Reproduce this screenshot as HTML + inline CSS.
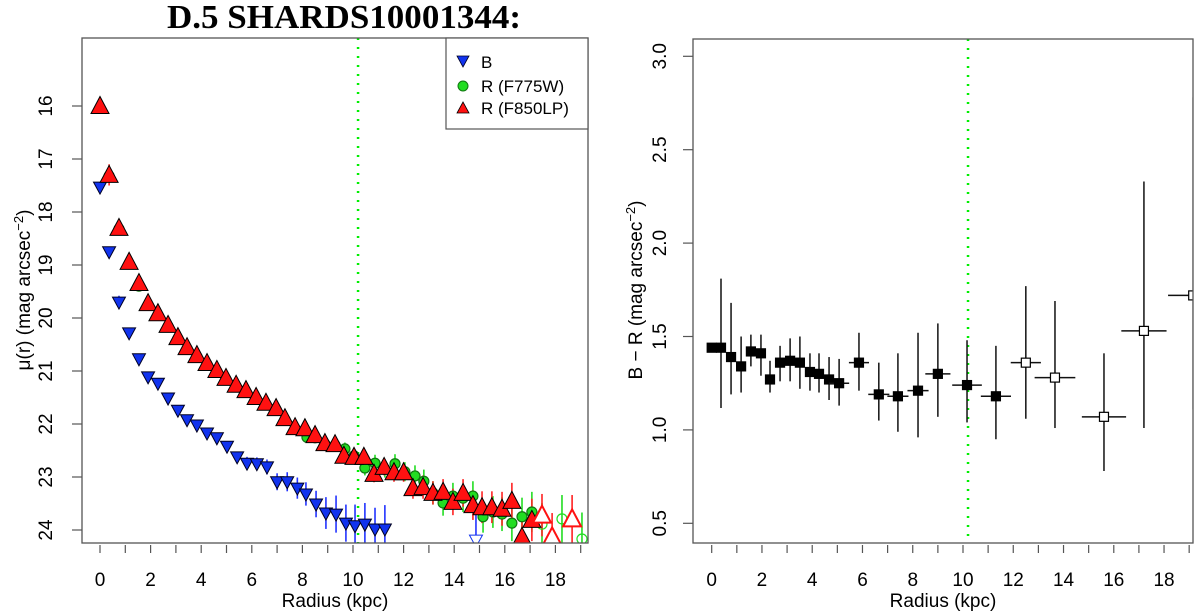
<!DOCTYPE html>
<html><head><meta charset="utf-8"><style>
html,body{margin:0;padding:0;background:#fff;}
svg{display:block;font-family:"Liberation Sans",sans-serif;}
</style></head><body>
<svg id="chart" width="1200" height="614" viewBox="0 0 1200 614" xmlns="http://www.w3.org/2000/svg">
<text x="344" y="28" font-family="Liberation Serif" font-weight="bold" font-size="34" text-anchor="middle" textLength="354" lengthAdjust="spacingAndGlyphs">D.5 SHARDS10001344:</text>
<g id="left"></g>
<g id="right"></g>
</svg>
<script>
// ---- Left panel data ----
const redR = [0,0.36,0.75,1.15,1.54,1.9,2.29,2.69,3.08,3.44,3.83,4.23,4.62,4.98,5.38,5.77,6.17,6.56,6.96,7.31,7.71,8.1,8.5,8.89,9.29,9.64,10.04,10.43,10.83,11.23,11.62,12.0,12.37,12.77,13.16,13.56,13.95,14.35,14.74,15.1,15.49,15.89,16.28,16.68,17.07,17.47,17.87,18.66];
const redMu = [16.0,17.3,18.3,18.94,19.34,19.72,19.91,20.13,20.36,20.55,20.7,20.85,20.98,21.13,21.26,21.36,21.49,21.6,21.7,21.89,22.06,22.08,22.21,22.36,22.38,22.6,22.62,22.62,22.94,22.81,22.91,22.91,23.21,23.19,23.3,23.28,23.47,23.3,23.53,23.57,23.57,23.6,23.45,24.13,23.81,23.72,24.13,23.79];
const redErr = [0.02,0.2,0.08,0.05,0.05,0.04,0.04,0.04,0.04,0.04,0.04,0.04,0.05,0.05,0.05,0.06,0.06,0.06,0.07,0.08,0.08,0.1,0.1,0.1,0.12,0.12,0.14,0.14,0.16,0.16,0.18,0.18,0.2,0.22,0.22,0.24,0.25,0.26,0.28,0.3,0.3,0.32,0.34,0.4,0.4,0.4,0.45,0.45];
const redOpen = [0,0,0,0,0,0,0,0,0,0,0,0,0,0,0,0,0,0,0,0,0,0,0,0,0,0,0,0,0,0,0,0,0,0,0,0,0,0,0,0,0,0,0,0,0,1,1,1];
const greenR = [0.36,0.75,1.15,1.54,1.9,2.29,2.69,3.08,3.44,3.83,4.23,4.62,4.98,5.38,5.77,6.17,6.56,6.96,7.31,7.71,8.18,8.5,8.89,9.29,9.68,10.04,10.47,10.87,11.26,11.66,12.05,12.45,12.8,13.16,13.56,13.95,14.35,14.74,15.14,15.53,15.89,16.28,16.68,17.07,17.47,18.26,19.05];
const greenMu = [17.32,18.32,18.98,19.4,19.76,19.95,20.16,20.39,20.58,20.73,20.88,21.01,21.16,21.29,21.39,21.52,21.63,21.73,21.92,22.09,22.25,22.26,22.38,22.4,22.47,22.6,22.83,22.74,22.85,22.75,22.9,22.98,23.08,23.3,23.49,23.36,23.4,23.36,23.75,23.66,23.7,23.87,23.75,23.66,23.89,23.79,24.17];
const greenErr = [0.05,0.05,0.04,0.04,0.04,0.04,0.04,0.04,0.04,0.04,0.05,0.05,0.05,0.05,0.06,0.06,0.06,0.07,0.08,0.08,0.1,0.1,0.1,0.12,0.12,0.14,0.14,0.16,0.16,0.18,0.18,0.2,0.22,0.22,0.24,0.25,0.26,0.28,0.3,0.3,0.32,0.34,0.36,0.38,0.4,0.45,0.5];
const greenOpen = [0,0,0,0,0,0,0,0,0,0,0,0,0,0,0,0,0,0,0,0,0,0,0,0,0,0,0,0,0,0,0,0,0,0,0,0,0,0,0,0,0,0,0,0,1,1,1];
const blueR = [0,0.36,0.75,1.15,1.54,1.9,2.29,2.69,3.08,3.44,3.83,4.23,4.62,5.02,5.42,5.81,6.2,6.6,7.0,7.4,7.8,8.14,8.54,8.93,9.33,9.72,10.08,10.47,10.87,11.26,14.86];
const blueMu = [17.53,18.75,19.7,20.28,20.77,21.11,21.23,21.51,21.74,21.92,22.02,22.17,22.26,22.42,22.62,22.74,22.75,22.81,23.09,23.09,23.21,23.32,23.51,23.68,23.7,23.87,23.92,23.89,23.98,23.98,24.19];
const blueErr = [0.02,0.08,0.12,0.1,0.06,0.06,0.06,0.06,0.06,0.07,0.07,0.08,0.08,0.09,0.1,0.12,0.12,0.14,0.16,0.18,0.2,0.22,0.25,0.3,0.35,0.35,0.4,0.4,0.4,0.45,0.6];
const blueOpen = [0,0,0,0,0,0,0,0,0,0,0,0,0,0,0,0,0,0,0,0,0,0,0,0,0,0,0,0,0,0,1];
const leftXTicks = [0,2,4,6,8,10,12,14,16,18];
const leftYTicks = [16,17,18,19,20,21,22,23,24];
const legendLabels = ["B","R (F775W)","R (F850LP)"];
// ---- Right panel data ----
const colR = [0,0.37,0.77,1.17,1.56,1.96,2.32,2.72,3.12,3.51,3.91,4.27,4.67,5.07,5.86,6.65,7.41,8.21,9.0,10.16,11.31,12.5,13.66,15.61,17.2,19.16];
const colVal = [1.44,1.44,1.39,1.34,1.42,1.41,1.27,1.36,1.37,1.36,1.31,1.30,1.27,1.25,1.36,1.19,1.18,1.21,1.30,1.24,1.18,1.36,1.28,1.07,1.53,1.72];
const colHi = [1.44,1.81,1.68,1.50,1.51,1.51,1.37,1.45,1.49,1.50,1.41,1.41,1.39,1.38,1.52,1.36,1.41,1.52,1.57,1.48,1.45,1.77,1.69,1.41,2.33,2.78];
const colLo = [1.44,1.117,1.19,1.20,1.34,1.29,1.20,1.26,1.26,1.22,1.21,1.20,1.16,1.13,1.21,1.05,0.99,0.96,1.07,1.04,0.95,1.06,1.01,0.78,1.01,1.11];
const colXErr = [0,0,0,0,0,0,0,0,0,0,0,0,0,0.4,0.4,0.42,0.42,0.42,0.5,0.59,0.6,0.6,0.81,0.88,0.9,1.0];
const colOpen = [0,0,0,0,0,0,0,0,0,0,0,0,0,0,0,0,0,0,0,0,0,1,1,1,1,1];
const rightXTicks = [0,2,4,6,8,10,12,14,16,18];
const rightYTicks = [0.5,1.0,1.5,2.0,2.5,3.0];
const dottedR = 10.2;

const NS = "http://www.w3.org/2000/svg";
function mk(parent, tag, attrs){const e=document.createElementNS(NS,tag);for(const k in attrs)e.setAttribute(k,attrs[k]);parent.appendChild(e);return e;}

const L = {x0:82,x1:588,y0:38,y1:543};
const lx = r => 100 + r*25.3;
const ly = m => 106 + (m-16)*53;
const gl = document.getElementById('left');
const clipL = mk(document.getElementById('chart'),'clipPath',{id:'clipL'});
mk(clipL,'rect',{x:L.x0,y:L.y0,width:L.x1-L.x0,height:L.y1-L.y0});
const clipR = mk(document.getElementById('chart'),'clipPath',{id:'clipR'});
mk(clipR,'rect',{x:693,y:39,width:500,height:504});

const pl = mk(gl,'g',{'clip-path':'url(#clipL)'});


const dl = mk(pl,'line',{x1:lx(dottedR),x2:lx(dottedR),y1:L.y0,y2:L.y1,stroke:'#00ee00','stroke-width':2.5,'stroke-dasharray':'2 7'});



function errs(g,R,M,E,col){for(let i=0;i<R.length;i++){const l=mk(g,'line',{x1:lx(R[i]),x2:lx(R[i]),y1:ly(M[i]-E[i]),y2:ly(M[i]+E[i]),stroke:col,'stroke-width':1.6});

}}
errs(pl,greenR,greenMu,greenErr,'#22dd22');
errs(pl,redR,redMu,redErr,'#ff2222');
errs(pl,blueR,blueMu,blueErr,'#2233ff');
for(let i=0;i<greenR.length;i++){const c=mk(pl,'circle',{cx:lx(greenR[i]),cy:ly(greenMu[i]),r:5,fill:greenOpen[i]?'none':'#22dd22',stroke:greenOpen[i]?'#22dd22':'#117711','stroke-width':1.2});

}
for(let i=0;i<blueR.length;i++){const x=lx(blueR[i]),y=ly(blueMu[i]);const p=mk(pl,'polygon',{points:`${x-6.5},${y-5} ${x+6.5},${y-5} ${x},${y+7}`,fill:blueOpen[i]?'#fff':'#1133ee',stroke:blueOpen[i]?'#1133ee':'#000022','stroke-width':1});

}
for(let i=0;i<redR.length;i++){const x=lx(redR[i]),y=ly(redMu[i]);const p=mk(pl,'polygon',{points:`${x-9},${y+7.5} ${x+9},${y+7.5} ${x},${y-9.5}`,fill:redOpen[i]?'#fff':'#ff1111',stroke:redOpen[i]?'#ff1111':'#000','stroke-width':redOpen[i]?2:1});

}

const bl = mk(gl,'rect',{x:L.x0,y:L.y0,width:L.x1-L.x0,height:L.y1-L.y0,fill:'none',stroke:'#555','stroke-width':1.3});


for(let k=0;k<=19;k++){mk(gl,'line',{x1:lx(k),x2:lx(k),y1:545,y2:553,stroke:'#555','stroke-width':1.2});}
leftXTicks.forEach(t=>{const e=mk(gl,'text',{x:lx(t),y:586,'font-size':19,'text-anchor':'middle'});e.textContent=t;

});
leftYTicks.forEach(t=>{mk(gl,'line',{x1:72,x2:82,y1:ly(t),y2:ly(t),stroke:'#555','stroke-width':1.2});const e=mk(gl,'text',{x:0,y:0,'font-size':19,'text-anchor':'middle',transform:`translate(52,${ly(t)}) rotate(-90)`});e.textContent=t;

});
const xtl = mk(gl,'text',{x:335,y:607,'font-size':19,'text-anchor':'middle'});xtl.textContent='Radius (kpc)';


const ytl = mk(gl,'text',{x:0,y:0,'font-size':19,'text-anchor':'middle',transform:'translate(30,290) rotate(-90)'});ytl.innerHTML='μ(r) (mag arcsec<tspan dy="-7" font-size="13">−2</tspan><tspan dy="7">)</tspan>';



const lg = mk(gl,'g',{});


mk(lg,'rect',{x:446,y:38,width:142,height:91,fill:'#fff',stroke:'#555','stroke-width':1.2});
const ly0=[62,86,108];
mk(lg,'polygon',{points:`457,56 469,56 463,67`,fill:'#1133ee',stroke:'#000022','stroke-width':0.8});
mk(lg,'circle',{cx:463,cy:86,r:5,fill:'#22dd22',stroke:'#117711','stroke-width':1});
mk(lg,'polygon',{points:`457,113 469,113 463,102`,fill:'#ff1111',stroke:'#000','stroke-width':0.8});
legendLabels.forEach((s,i)=>{const e=mk(lg,'text',{x:481,y:ly0[i]+6,'font-size':17});e.textContent=s;

});

const gr = document.getElementById('right');
const rx = r => 711.7 + r*25.13;
const ry = v => 523.3 - (v-0.5)*186.8;
const pr = mk(gr,'g',{'clip-path':'url(#clipR)'});


const dr = mk(pr,'line',{x1:rx(dottedR),x2:rx(dottedR),y1:39,y2:543,stroke:'#00ee00','stroke-width':2.5,'stroke-dasharray':'2 7'});


for(let i=0;i<colR.length;i++){
 const x=rx(colR[i]),y=ry(colVal[i]);
 const v=mk(pr,'line',{x1:x,x2:x,y1:ry(colHi[i]),y2:ry(colLo[i]),stroke:'#111','stroke-width':1.5});
 
 
 if(colXErr[i]>0){const h=mk(pr,'line',{x1:rx(colR[i]-colXErr[i]),x2:rx(colR[i]+colXErr[i]),y1:y,y2:y,stroke:'#111','stroke-width':1.5});
 
 }
 const s=mk(pr,'rect',{x:x-4.5,y:y-4.5,width:9,height:9,fill:colOpen[i]?'#fff':'#000',stroke:'#000','stroke-width':1.2});
 
 
}
const br = mk(gr,'rect',{x:693,y:39,width:500,height:504,fill:'none',stroke:'#555','stroke-width':1.3});


for(let k=0;k<=19;k++){mk(gr,'line',{x1:rx(k),x2:rx(k),y1:545,y2:553,stroke:'#555','stroke-width':1.2});}
rightXTicks.forEach(t=>{const e=mk(gr,'text',{x:rx(t),y:586,'font-size':19,'text-anchor':'middle'});e.textContent=t;

});
rightYTicks.forEach(t=>{mk(gr,'line',{x1:683,x2:693,y1:ry(t),y2:ry(t),stroke:'#555','stroke-width':1.2});const e=mk(gr,'text',{x:0,y:0,'font-size':19,'text-anchor':'middle',transform:`translate(666,${ry(t)}) rotate(-90)`});e.textContent=t.toFixed(1);

});
const xtr = mk(gr,'text',{x:943,y:607,'font-size':19,'text-anchor':'middle'});xtr.textContent='Radius (kpc)';


const ytr = mk(gr,'text',{x:0,y:0,'font-size':19,'text-anchor':'middle',transform:'translate(642,290) rotate(-90)'});ytr.innerHTML='B − R (mag arcsec<tspan dy="-7" font-size="13">−2</tspan><tspan dy="7">)</tspan>';


</script>
</body></html>
